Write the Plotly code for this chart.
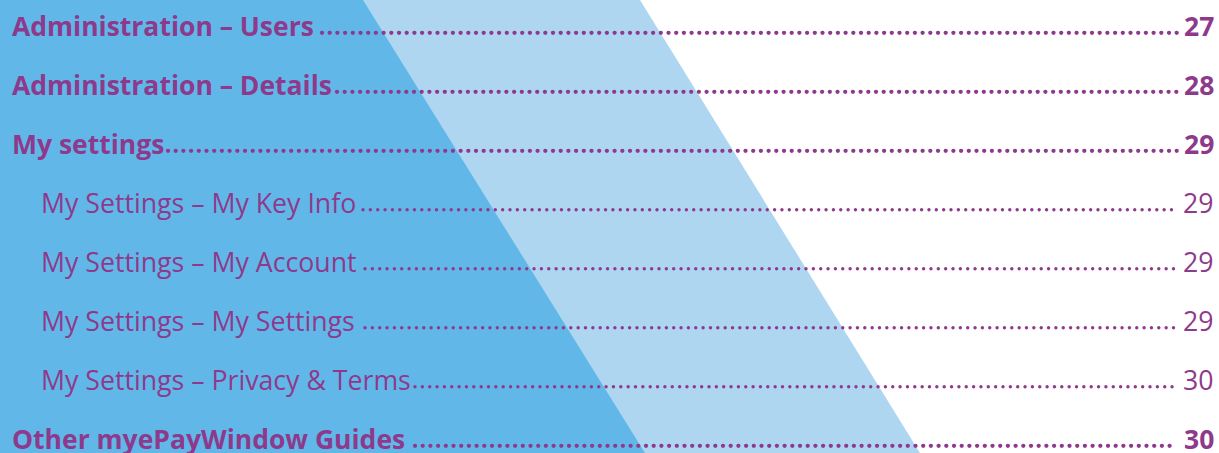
import numpy as np
import plotly.graph_objects as go

# ---- content ----
entries = [
    "Administration – Users",
    "Administration – Details",
    "My settings",
    "My Settings – My Key Info",
    "My Settings – My Account",
    "My Settings – My Settings",
    "My Settings – Privacy & Terms",
    "Other myePayWindow Guides",
]
pages = ["27", "28", "29", "29", "29", "29", "30", "30"]
levels = [1, 1, 1, 2, 2, 2, 2, 1]

# ---- layout helpers (pixel space) ----
W, H = 1219, 453
row_baseline = [35, 94, 153, 212, 271, 330, 389, 448]
leader_start = [322, 337, 168, 363, 365, 365, 415, 415]
leader_end = 1177

PURPLE = "#8E3A8C"
DARK_BLUE = "#61B8E8"
LIGHT_BLUE = "#AED6F1"
FONT = "Open Sans"

fig = go.Figure()

shapes = [
    dict(type="path", path=f"M 640 0 L 920 {H} L 0 {H} L 0 0 Z",
         fillcolor=LIGHT_BLUE, line=dict(width=0), layer="below",
         xref="x", yref="y"),
    dict(type="path", path=f"M 363 0 L 645 {H} L 0 {H} L 0 0 Z",
         fillcolor=DARK_BLUE, line=dict(width=0), layer="below",
         xref="x", yref="y"),
]

annotations = []
for label, page, lvl, base, xs in zip(entries, pages, levels, row_baseline, leader_start):
    bold = lvl == 1
    size = 26.5 if bold else 26.7
    xpos = 10 if bold else 39
    yc = base - 0.39 * size + 1
    annotations.append(dict(
        x=xpos, y=yc, xref="x", yref="y", xanchor="left", yanchor="middle",
        text=label, showarrow=False,
        font=dict(family=FONT, size=size, color=PURPLE, weight=700 if bold else 400),
    ))
    annotations.append(dict(
        x=1216, y=yc, xref="x", yref="y", xanchor="right", yanchor="middle",
        text=page, showarrow=False,
        font=dict(family=FONT, size=size, color=PURPLE, weight=700 if bold else 400),
    ))
    step = 7.7 if bold else 7.35
    dots_x = np.arange(xs, leader_end + 0.1, step)
    fig.add_trace(go.Scatter(
        x=dots_x, y=np.full(len(dots_x), base - 2.2), mode="markers",
        marker=dict(size=4.3 if bold else 3.4, color=PURPLE, line=dict(width=0)),
        hoverinfo="skip", showlegend=False,
    ))

fig.update_layout(
    width=W, height=H,
    margin=dict(l=0, r=0, t=0, b=0),
    paper_bgcolor="white", plot_bgcolor="white",
    xaxis=dict(range=[0, W], visible=False, fixedrange=True),
    yaxis=dict(range=[H, 0], visible=False, fixedrange=True),
    shapes=shapes, annotations=annotations, showlegend=False,
)

fig.write_html("out.html", config=dict(displayModeBar=False),
               post_script="document.body.style.margin='0';document.body.style.overflow='hidden';")
